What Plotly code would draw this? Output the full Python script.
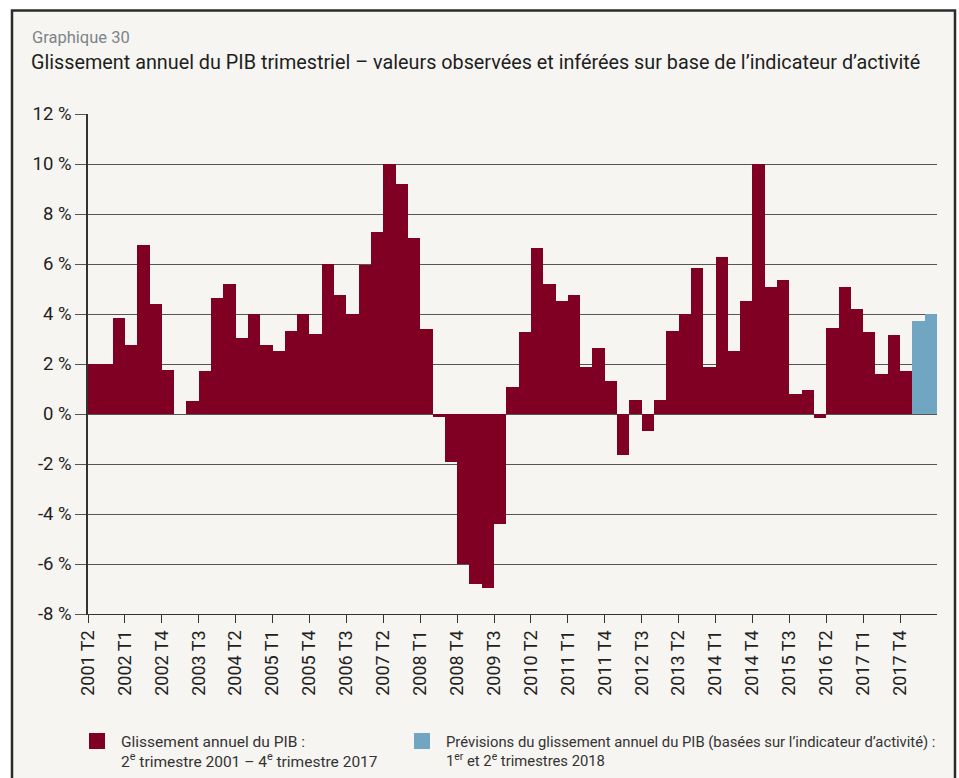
import plotly.graph_objects as go

# Year-on-year growth of quarterly GDP (%), 2001 Q2 .. 2017 Q4
observed = [
    2.0, 2.0, 3.84,                 # 2001 T2-T4
    2.78, 6.77, 4.41, 1.75,         # 2002
    0.0, 0.53, 1.71, 4.66,          # 2003
    5.19, 3.05, 4.0, 2.78,          # 2004
    2.54, 3.33, 4.0, 3.21,          # 2005
    6.0, 4.78, 4.0, 5.95,           # 2006
    7.30, 10.0, 9.19, 7.03,         # 2007
    3.41, -0.1, -1.93, -6.0,        # 2008
    -6.8, -6.97, -4.39, 1.08,       # 2009
    3.29, 6.65, 5.19, 4.53,         # 2010
    4.78, 1.87, 2.66, 1.32,         # 2011
    -1.65, 0.57, -0.68, 0.57,       # 2012
    3.33, 4.0, 5.85, 1.87,          # 2013
    6.28, 2.54, 4.53, 10.0,         # 2014
    5.07, 5.36, 0.80, 0.96,         # 2015
    -0.14, 3.45, 5.07, 4.21,        # 2016
    3.29, 1.59, 3.17, 1.71,         # 2017
]
# Forecasts from the activity indicator, 2018 T1-T2
forecast = [3.72, 4.0]

quarters = []
year, q = 2001, 2
for _ in range(len(observed) + len(forecast)):
    quarters.append(f"{year} T{q}")
    q += 1
    if q == 5:
        q, year = 1, year + 1

tick_labels = quarters[0:len(observed):3]
y_ticks = [-8, -6, -4, -2, 0, 2, 4, 6, 8, 10, 12]
y_tick_labels = [f"{v} %" for v in y_ticks]

MAROON = "#7f0023"
BLUE = "#70a6c2"
CREAM = "#f6f5f1"
GRID = "#555555"
FONT = "Roboto"

W, H = 959, 778
L, R, T, B = 88, 22, 114, 164
PW, PH = W - L - R, H - T - B


def px_x(px):
    return (px - L) / PW


def px_y(py):
    return (H - B - py) / PH


n_obs = len(observed)
fig = go.Figure()
fig.add_trace(go.Bar(
    x=[i + 0.5 for i in range(n_obs)], y=observed, width=1.0,
    marker=dict(color=MAROON, line=dict(width=0)),
    hovertext=quarters[:n_obs], showlegend=False,
))
fig.add_trace(go.Bar(
    x=[n_obs + i + 0.5 for i in range(len(forecast))], y=forecast, width=1.0,
    marker=dict(color=BLUE, line=dict(width=0)),
    hovertext=quarters[n_obs:], showlegend=False,
))

fig.update_layout(
    width=W, height=H,
    margin=dict(l=L, r=R, t=T, b=B),
    paper_bgcolor="white",
    plot_bgcolor=CREAM,
    bargap=0,
    font=dict(family=FONT, color="#222222"),
    xaxis=dict(
        range=[0, n_obs + len(forecast)],
        tickmode="array",
        tickvals=list(range(0, n_obs, 3)),
        ticktext=tick_labels,
        tickangle=-90,
        ticks="outside", ticklen=8, tickwidth=1.3, tickcolor="#333333",
        showgrid=False, zeroline=False,
        showline=True, linecolor="#333333", linewidth=1.3,
        tickfont=dict(size=18, color="#222222", family=FONT),
    ),
    yaxis=dict(
        range=[-8, 12],
        tickmode="array",
        tickvals=y_ticks,
        ticktext=y_tick_labels,
        ticks="outside", ticklen=11, tickwidth=1.3, tickcolor=GRID,
        showgrid=True, gridcolor=GRID, gridwidth=1.4,
        zeroline=True, zerolinecolor=GRID, zerolinewidth=1.4,
        showline=True, linecolor="#333333", linewidth=1.5,
        tickfont=dict(size=18.5, color="#222222", family=FONT),
    ),
)

shapes = [
    # framed panel
    dict(type="rect", xref="paper", yref="paper", layer="below",
         x0=px_x(12), x1=px_x(955), y0=px_y(795), y1=px_y(10.5),
         fillcolor=CREAM, line=dict(color="#2b2b2b", width=2.5)),
    # legend swatches
    dict(type="rect", xref="paper", yref="paper",
         x0=px_x(89), x1=px_x(105), y0=px_y(749), y1=px_y(733),
         fillcolor=MAROON, line=dict(width=0)),
    dict(type="rect", xref="paper", yref="paper",
         x0=px_x(414), x1=px_x(430), y0=px_y(749), y1=px_y(733),
         fillcolor=BLUE, line=dict(width=0)),
]

annotations = [
    dict(text="Graphique 30", x=px_x(30), y=px_y(37),
         font=dict(size=16.5, color="#7d848b", family=FONT)),
    dict(text="Glissement annuel du PIB trimestriel – valeurs observées et inférées sur base de l’indicateur d’activité",
         x=px_x(29), y=px_y(63), font=dict(size=19.8, color="#1e1e1e", family=FONT)),
    dict(text="Glissement annuel du PIB :", x=px_x(119), y=px_y(741.5),
         font=dict(size=15.5, color="#333333", family=FONT)),
    dict(text="2<sup>e</sup> trimestre 2001 – 4<sup>e</sup> trimestre 2017", x=px_x(119), y=px_y(760),
         font=dict(size=15.5, color="#333333", family=FONT)),
    dict(text="Prévisions du glissement annuel du PIB (basées sur l’indicateur d’activité) :",
         x=px_x(444), y=px_y(741.5), font=dict(size=14.8, color="#333333", family=FONT)),
    dict(text="1<sup>er</sup> et 2<sup>e</sup> trimestres 2018", x=px_x(444), y=px_y(760),
         font=dict(size=14.8, color="#333333", family=FONT)),
]
for a in annotations:
    a.update(xref="paper", yref="paper", xanchor="left", yanchor="middle", showarrow=False)

fig.update_layout(shapes=shapes, annotations=annotations)

fig.write_html("out.html")
